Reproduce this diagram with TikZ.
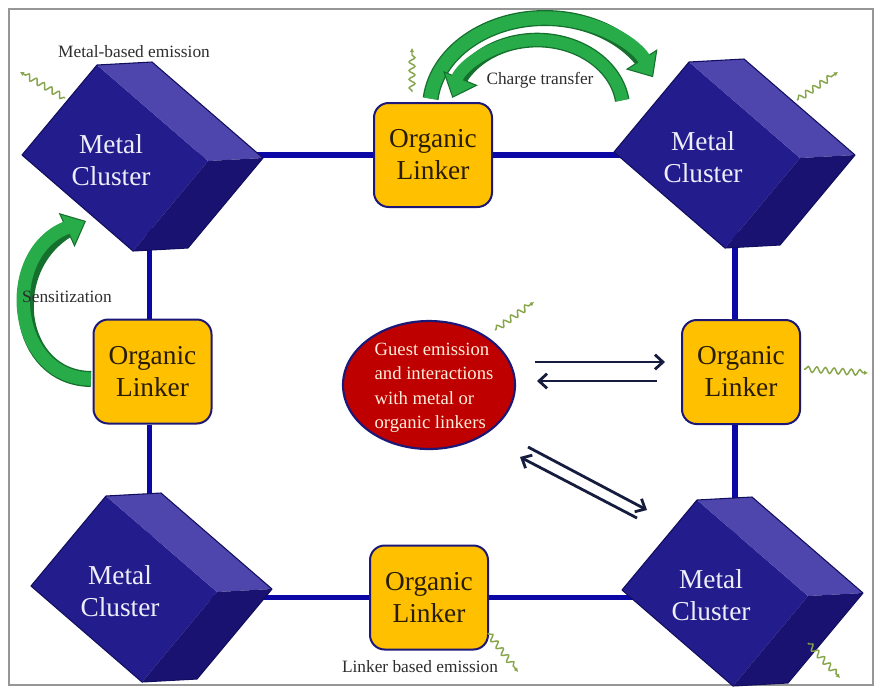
\documentclass[tikz,border=0pt]{standalone}
\usepackage{fontspec}
\setmainfont{Liberation Serif}
\usetikzlibrary{shapes.geometric,arrows.meta,decorations.pathmorphing,bending,backgrounds}
\definecolor{mcfront}{RGB}{35,28,140}
\definecolor{mctop}{RGB}{78,70,172}
\definecolor{mcside}{RGB}{26,18,112}
\definecolor{mcedge}{RGB}{18,14,95}
\definecolor{mctxt}{RGB}{238,238,250}
\definecolor{bondblue}{RGB}{12,8,165}
\definecolor{lnkfill}{RGB}{255,192,0}
\definecolor{lnkedge}{RGB}{28,24,120}
\definecolor{lnktext}{RGB}{40,28,5}
\definecolor{guestred}{RGB}{190,0,0}
\definecolor{cream}{RGB}{255,238,220}
\definecolor{arrnavy}{RGB}{22,28,62}
\definecolor{gbody}{RGB}{40,172,74}
\definecolor{gedge}{RGB}{22,112,45}
\definecolor{wavegreen}{RGB}{135,165,75}
\definecolor{lbltext}{RGB}{45,45,45}
\definecolor{framegray}{RGB}{150,150,150}

\tikzset{
  mctext/.style={text=mctxt, font=\fontsize{20.5}{24}\selectfont, align=center, inner sep=0pt},
  linker/.style={rectangle, rounded corners=11pt, minimum width=88.5pt, minimum height=78pt,
    fill=lnkfill, draw=lnkedge, line width=1.5pt, font=\fontsize{20.5}{24}\selectfont,
    align=center, text=lnktext},
  bond/.style={draw=bondblue, line width=3.8pt},
  eqarrow/.style={draw=arrnavy, line width=2.1pt, -{Straight Barb[length=6pt,width=11pt]}},
  gband/.style={draw=gedge, line width=12pt, -{Triangle[length=16pt,width=28pt,fill=gbody,line width=0.8pt]}},
  gcore/.style={draw=gbody, line width=10pt, shorten >=13pt},
  wave/.style={draw=wavegreen, line width=1.1pt, decorate,
    decoration={snake, amplitude=2.2pt, segment length=6.5pt, pre length=1pt, post length=3pt},
    -{Latex[length=3pt,width=3.5pt]}},
  lbl/.style={text=lbltext, font=\fontsize{13}{15}\selectfont, inner sep=1pt}
}

\newcommand\mcluster[3]{%
  \begin{scope}[shift={(#2,#3)}]
    \coordinate (#1c) at (0,0);
    \fill[mcfront] (-93,-3) -- (-18,-93) -- (93,3) -- (18,93) -- cycle;
    \fill[mctop] (-18,-93) -- (37,-96) -- (148,0) -- (93,3) -- cycle;
    \fill[mcside] (93,3) -- (148,0) -- (73,90) -- (18,93) -- cycle;
    \draw[mcedge, line width=0.8pt, line join=round] (-93,-3) -- (-18,-93) -- (37,-96) -- (148,0) -- (73,90) -- (18,93) -- cycle;
    \node[mctext] (#1) at (-4,2) {Metal\\Cluster};
  \end{scope}}

\begin{document}
\begin{tikzpicture}[x=0.75pt, y=-0.75pt]
\useasboundingbox (0,0) rectangle (877,687);

% metal clusters
\mcluster{TL}{115}{158}
\mcluster{TR}{707}{155}
\mcluster{BL}{124}{589}
\mcluster{BR}{715}{593}

% organic linkers
\node[linker] (lnkT) at (433,155) {Organic\\Linker};
\node[linker] (lnkL) at (152.5,371.5) {Organic\\Linker};
\node[linker] (lnkR) at (741,372) {Organic\\Linker};
\node[linker] (lnkB) at (429,597.5) {Organic\\Linker};

\begin{pgfonlayer}{background}
  \draw[framegray, line width=1.2pt] (9,9) rectangle (873,685);
  \draw[bond] (lnkT.west) -- (lnkT.west -| TLc);
  \draw[bond] (lnkT.east) -- (lnkT.east -| TRc);
  \draw[bond] (lnkB.west) -- (lnkB.west -| BLc);
  \draw[bond] (lnkB.east) -- (lnkB.east -| BRc);
  \draw[bond] ([xshift=-2pt]lnkL.north) -- ([xshift=-2pt]lnkL.north |- TLc);
  \draw[bond] ([xshift=-2pt]lnkL.south) -- ([xshift=-2pt]lnkL.south |- BLc);
  \draw[bond] ([xshift=-4.5pt]lnkR.north) -- ([xshift=-4.5pt]lnkR.north |- TRc);
  \draw[bond] ([xshift=-4.5pt]lnkR.south) -- ([xshift=-4.5pt]lnkR.south |- BRc);
\end{pgfonlayer}

% guest ellipse
\node[ellipse, minimum width=129pt, minimum height=96pt, inner sep=0pt,
      fill=guestred, draw=lnkedge, line width=1.6pt] (guest) at (429,385) {};
\node[text=cream, font=\fontsize{14}{18.4}\selectfont, align=left, inner sep=0pt]
      (guestTxt) at (434,388) {Guest emission\\and interactions\\with metal or\\organic linkers};

% equilibrium arrows
\coordinate (e1s) at (535,362); \coordinate (e1e) at (665,362);
\coordinate (e2s) at (657,381); \coordinate (e2e) at (537,381);
\coordinate (e3s) at (528,447); \coordinate (e3e) at (647,510);
\coordinate (e4s) at (637,518); \coordinate (e4e) at (520,457);
\draw[eqarrow] (e1s) -- (e1e);
\draw[eqarrow] (e2s) -- (e2e);
\draw[eqarrow] (e3s) -- (e3e);
\draw[eqarrow] (e4s) -- (e4e);

% green block arrows
\coordinate (ctO) at (430.6,98.6);
\coordinate (ctI) at (622.2,100.3);
\coordinate (snS) at (91,379);
\coordinate (snE) at (86,221);
\draw[gband] (ctO) arc[start angle=-174, end angle=-20, x radius=115, y radius=90];
\draw[gcore] (ctO) arc[start angle=-174, end angle=-20, x radius=115, y radius=90];
\draw[gband, line width=11pt] (ctI) arc[start angle=-8, end angle=-170, x radius=86, y radius=70];
\draw[gcore, line width=9pt] (ctI) arc[start angle=-8, end angle=-170, x radius=86, y radius=70];
\draw[gband] (snS) .. controls (10,378) and (0,250) .. (snE);
\draw[gcore] (snS) .. controls (10,378) and (0,250) .. (snE);

% emission squiggles
\coordinate (w1a) at (65,98);   \coordinate (w1b) at (20,72);
\coordinate (w2a) at (412,92);  \coordinate (w2b) at (412,48);
\coordinate (w3a) at (797,100); \coordinate (w3b) at (838,72);
\coordinate (w4a) at (495,330); \coordinate (w4b) at (534,302);
\coordinate (w5a) at (804,369); \coordinate (w5b) at (868,373);
\coordinate (w6a) at (488,633); \coordinate (w6b) at (518,672);
\coordinate (w7a) at (808,643); \coordinate (w7b) at (840,678);
\draw[wave] (w1a) -- (w1b);
\draw[wave] (w2a) -- (w2b);
\draw[wave] (w3a) -- (w3b);
\draw[wave] (w4a) -- (w4b);
\draw[wave] (w5a) -- (w5b);
\draw[wave] (w6a) -- (w6b);
\draw[wave] (w7a) -- (w7b);

% labels
\node[lbl] (lblMetal) at (134,52) {Metal-based emission};
\node[lbl] (lblCT) at (540,80) {Charge transfer};
\node[lbl] (lblSens) at (67,297) {Sensitization};
\node[lbl] (lblLink) at (420,667) {Linker based emission};
\end{tikzpicture}
\end{document}
